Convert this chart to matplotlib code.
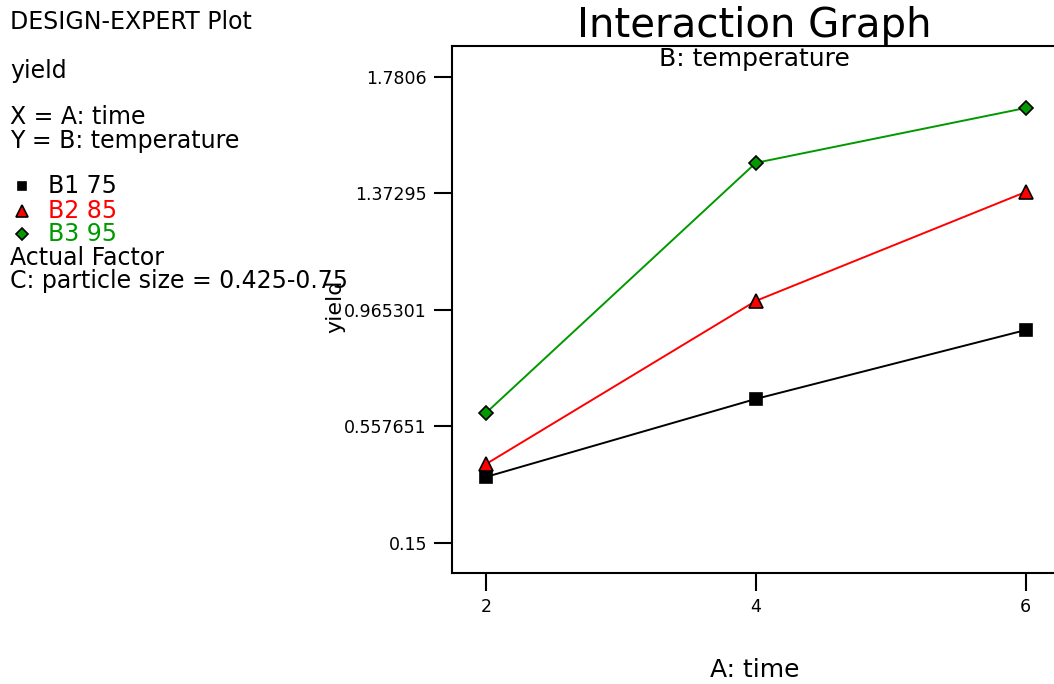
import matplotlib
matplotlib.use("Agg")
import matplotlib.pyplot as plt
from matplotlib.lines import Line2D

plt.rcParams["font.family"] = ["DejaVu Sans"]

# data
time = [2, 4, 6]
b1_75 = [0.381, 0.654, 0.895]
b2_85 = [0.426, 0.997, 1.378]
b3_95 = [0.605, 1.480, 1.672]
yticks = [0.15, 0.557651, 0.965301, 1.37295, 1.7806]
ytick_labels = ["0.15", "0.557651", "0.965301", "1.37295", "1.7806"]

fig = plt.figure(figsize=(10.54, 6.84), dpi=100)
ax = fig.add_axes([0.4288, 0.1623, 0.5712, 0.7705])

ax.plot(time, b1_75, color="black", lw=1.4, marker="s", ms=8,
        mfc="black", mec="black", mew=1.2)
ax.plot(time, b2_85, color="#ff0000", lw=1.4, marker="^", ms=10,
        mfc="#ff0000", mec="black", mew=1.2)
ax.plot(time, b3_95, color="#009900", lw=1.4, marker="D", ms=7,
        mfc="#009900", mec="black", mew=1.2)

ax.set_xlim(1.748, 6.21)
ax.set_ylim(0.045, 1.889)
ax.set_xticks(time)
ax.set_xticklabels([str(t) for t in time])
ax.set_yticks(yticks)
ax.set_yticklabels(ytick_labels)
ax.tick_params(axis="both", direction="out", length=13, width=1.5,
               labelsize=12.5)
ax.tick_params(axis="y", pad=5)
ax.tick_params(axis="x", pad=5)
ax.spines["right"].set_visible(False)
for s in ["left", "top", "bottom"]:
    ax.spines[s].set_linewidth(1.5)

fig.text(0.716, 0.962, "Interaction Graph", fontsize=29, ha="center", va="center")
fig.text(0.716, 0.914, "B: temperature", fontsize=18, ha="center", va="center")
fig.text(0.716, 0.02, "A: time", fontsize=18, ha="center", va="center")
fig.text(0.318, 0.552, "yield", fontsize=16, rotation=90, ha="center", va="center")

# annotation block on the left
H = 684.0
def put(y, s, color="black", x=10):
    fig.text(x / 1054.0, 1 - y / H, s, fontsize=17, color=color,
             ha="left", va="center")

put(22, "DESIGN-EXPERT Plot")
put(71, "yield")
put(117, "X = A: time")
put(141, "Y = B: temperature")
put(186, "B1 75", x=48)
put(211, "B2 85", color="#ff0000", x=48)
put(234, "B3 95", color="#009900", x=48)
put(258, "Actual Factor")
put(281, "C: particle size = 0.425-0.75")

for y, m, c, ms in [(186, "s", "black", 6), (211, "^", "#ff0000", 8), (234, "D", "#009900", 6)]:
    fig.add_artist(Line2D([22 / 1054.0], [1 - y / H], marker=m, ms=ms, mfc=c,
                          mec="black", mew=1.2, transform=fig.transFigure))

fig.savefig("out.png", dpi=100)
